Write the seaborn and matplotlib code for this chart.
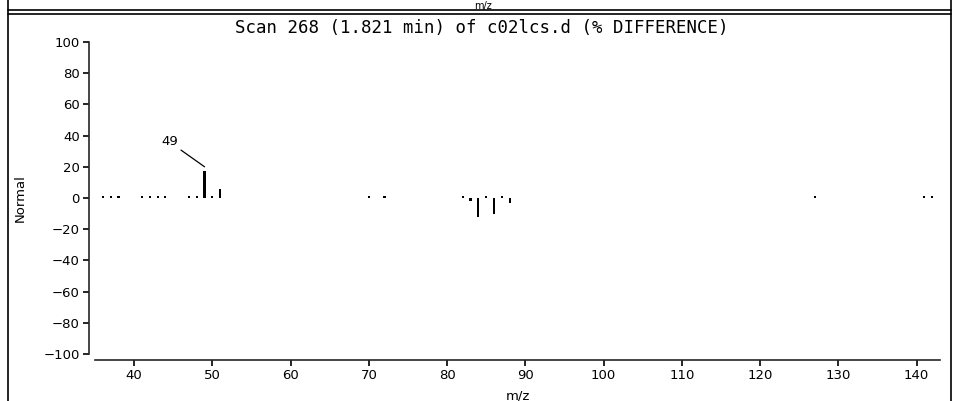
import numpy as np
import pandas as pd
import matplotlib
matplotlib.use("Agg")
import matplotlib.pyplot as plt
from matplotlib.lines import Line2D
import seaborn as sns

# values (% difference per m/z)
mz = [36, 37, 38, 41, 42, 43, 44, 47, 48, 49, 50, 51, 70, 72,
      82, 83, 84, 85, 86, 87, 88, 127, 141, 142]
diff = [1.0, 1.0, 1.0, 1.5, 1.5, 1.0, 1.0, 1.0, 1.5, 17.0, 1.5, 5.5, 1.0, 1.0,
        1.0, -2.0, -12.0, 1.0, -10.0, 1.0, -3.0, 1.0, 1.0, 1.0]
x_ticks = [40, 50, 60, 70, 80, 90, 100, 110, 120, 130, 140]
y_ticks = [-100, -80, -60, -40, -20, 0, 20, 40, 60, 80, 100]
title = "Scan 268 (1.821 min) of c02lcs.d (% DIFFERENCE)"
label_mz = 49
label_val = 17.0

df = pd.DataFrame({"mz": mz, "diff": diff})

sns.set_style("ticks")
plt.rcParams["font.family"] = ["DejaVu Sans"]
plt.rcParams["text.color"] = "black"
plt.rcParams["axes.labelcolor"] = "black"
plt.rcParams["axes.linewidth"] = 1.2
plt.rcParams["xtick.major.width"] = 1.2
plt.rcParams["ytick.major.width"] = 1.2
plt.rcParams["xtick.major.size"] = 4
plt.rcParams["ytick.major.size"] = 4

fig = plt.figure(figsize=(9.54, 4.01), dpi=100)
ax = fig.add_axes([0.0996, 0.1172, 0.8857, 0.7781])

sns.barplot(data=df, x="mz", y="diff", native_scale=True, width=0.27,
            color="black", linewidth=0, ax=ax)

ax.set_xlim(35, 143)
ax.set_ylim(-100, 100)
ax.set_xticks(x_ticks)
ax.set_yticks(y_ticks)
ax.set_yticklabels([str(v).replace("-", "\u2212") for v in y_ticks])
ax.tick_params(labelsize=9.5, colors="black", pad=3)
ax.set_xlabel("m/z", fontsize=9.5, labelpad=5)
ax.set_ylabel("Normal", fontsize=9.5, labelpad=12)
fig.text(482 / 954, 1 - 28 / 401, title, fontsize=12.5, family="DejaVu Sans Mono",
         ha="center", va="center", color="black")
sns.despine(ax=ax, offset=4)

ax.annotate(str(label_mz), xy=(label_mz, label_val + 3), xytext=(44.5, 36),
            fontsize=9.5, ha="center", va="center", color="black",
            arrowprops=dict(arrowstyle="-", color="black", lw=0.9,
                            shrinkA=0, shrinkB=0))

# panel frame like the original report page
fig.add_artist(Line2D([8 / 954, 8 / 954], [0, 1], color="black", lw=1.2))
fig.add_artist(Line2D([951 / 954, 951 / 954], [0, 1], color="black", lw=1.2))
fig.add_artist(Line2D([8 / 954, 951 / 954], [1 - 10 / 401] * 2, color="black", lw=1.2))
fig.add_artist(Line2D([8 / 954, 951 / 954], [1 - 14 / 401] * 2, color="black", lw=1.2))
fig.text(0.506, 1 - 0.5 / 401, "m/z", ha="center", va="top", fontsize=7)

fig.savefig("out.png", dpi=100)
